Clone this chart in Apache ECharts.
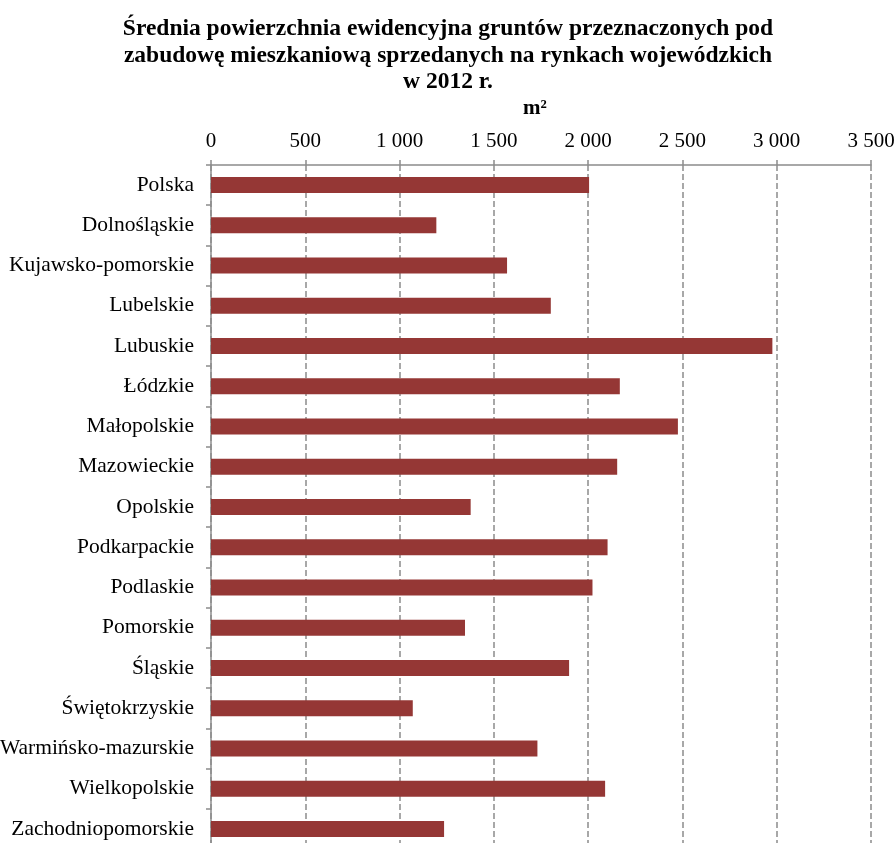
<!DOCTYPE html>
<html lang="pl">

<head>
    <meta charset="UTF-8">
    <title>Średnia powierzchnia gruntów</title>
    <script src="https://cdn.jsdelivr.net/npm/echarts/dist/echarts.min.js"></script>
    <style>
        body { margin: 0; background: #fff; }
    </style>
</head>

<body>
    <div id="chart" style="width: 896px; height: 843px;"></div>
    <script>
        // województwa (top to bottom)
        const regions = [
            'Polska', 'Dolnośląskie', 'Kujawsko-pomorskie', 'Lubelskie', 'Lubuskie',
            'Łódzkie', 'Małopolskie', 'Mazowieckie', 'Opolskie', 'Podkarpackie',
            'Podlaskie', 'Pomorskie', 'Śląskie', 'Świętokrzyskie', 'Warmińsko-mazurskie',
            'Wielkopolskie', 'Zachodniopomorskie'
        ];
        // average area in m2
        const avgArea = [
            2005, 1195, 1570, 1802, 2977,
            2168, 2476, 2154, 1377, 2103,
            2023, 1347, 1899, 1070, 1731,
            2090, 1236
        ];
        const axisMin = 0;
        const axisMax = 3500;
        const axisStep = 500;

        const serif = '"Liberation Serif", "Times New Roman", serif';
        const grey = '#8c8c8c';

        const chart = echarts.init(document.getElementById('chart'));

        const options = {
            backgroundColor: '#fff',
            animation: false,
            title: {
                text: 'Średnia powierzchnia ewidencyjna gruntów przeznaczonych pod\nzabudowę mieszkaniową sprzedanych na rynkach wojewódzkich\nw 2012 r.',
                left: 'center',
                top: 11,
                textStyle: {
                    fontFamily: serif,
                    fontWeight: 'bold',
                    fontSize: 23.5,
                    lineHeight: 26.5,
                    color: '#000'
                }
            },
            grid: { left: 211, top: 165, right: 25, height: 684, outerBoundsMode: 'none' },
            xAxis: {
                type: 'value',
                position: 'top',
                min: axisMin,
                max: axisMax,
                interval: axisStep,
                name: 'm²',
                nameLocation: 'middle',
                nameGap: 46,
                nameTextStyle: {
                    fontFamily: serif, fontWeight: 'bold', fontSize: 21, color: '#000',
                    padding: [0, 12, 0, 0]
                },
                axisLine: { show: true, lineStyle: { color: grey, width: 1.5 } },
                axisTick: { show: true, length: 5, lineStyle: { color: grey, width: 1.5 } },
                axisLabel: {
                    margin: 13,
                    fontFamily: serif,
                    fontSize: 21,
                    color: '#000',
                    formatter: v => v >= 1000 ? Math.floor(v / 1000) + ' ' + String(v % 1000).padStart(3, '0') : String(v)
                },
                splitLine: { show: true, lineStyle: { color: grey, width: 1.5, type: [6, 3] } }
            },
            yAxis: {
                type: 'category',
                data: regions,
                inverse: true,
                axisLine: { show: true, lineStyle: { color: grey, width: 1.5 } },
                axisTick: { show: true, length: 5, lineStyle: { color: grey, width: 1.5 } },
                axisLabel: { margin: 17, fontFamily: serif, fontSize: 21.5, color: '#000' }
            },
            series: [
                {
                    type: 'bar',
                    data: avgArea,
                    barWidth: 16,
                    itemStyle: { color: '#953735' }
                }
            ]
        };

        chart.setOption(options);
    </script>
</body>

</html>
